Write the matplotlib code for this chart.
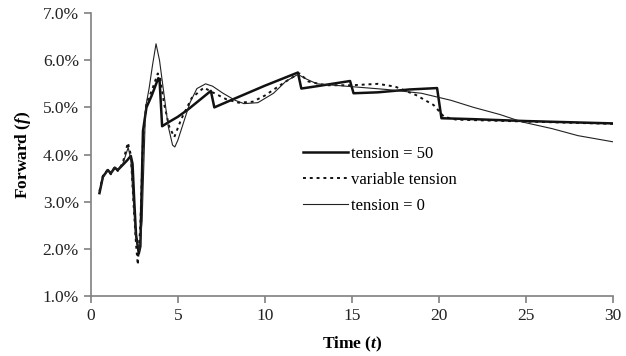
import matplotlib
matplotlib.use("Agg")
import matplotlib.pyplot as plt
from matplotlib.ticker import FuncFormatter

plt.rcParams["font.family"] = "Liberation Serif"
plt.rcParams["mathtext.fontset"] = "custom"
plt.rcParams["mathtext.it"] = "Liberation Serif:italic:bold"
plt.rcParams["mathtext.rm"] = "Liberation Serif:bold"

# tension = 50 (thick)
t_50 = [0.5, 0.7, 0.98, 1.15, 1.38, 1.55, 1.84, 2.1, 2.3, 2.4, 2.5, 2.6, 2.76, 2.85,
        3.0, 3.2, 3.5, 3.88, 3.95, 4.1, 4.4, 5.0, 5.57, 6.9, 7.1, 8.1, 10.0, 11.9,
        12.1, 13.0, 14.9, 15.1, 16.5, 18.3, 19.9, 20.15, 22.0, 25.0, 30.0]
f_50 = [3.18, 3.53, 3.67, 3.6, 3.72, 3.67, 3.78, 3.88, 3.97, 3.8, 3.0, 2.3, 1.9, 2.05,
        4.5, 5.0, 5.25, 5.62, 5.6, 4.6, 4.67, 4.8, 4.95, 5.35, 5.0, 5.16, 5.46, 5.74,
        5.4, 5.45, 5.56, 5.3, 5.32, 5.38, 5.41, 4.77, 4.75, 4.71, 4.66]

# variable tension (dotted)
t_var = [0.5, 0.7, 0.98, 1.15, 1.38, 1.55, 1.84, 2.13, 2.3, 2.45, 2.6, 2.7, 2.85, 3.0,
         3.2, 3.5, 3.85, 4.0, 4.2, 4.5, 4.8, 5.2, 5.8, 6.5, 7.0, 7.8, 8.5, 9.3, 10.0,
         10.8, 11.5, 12.0, 12.5, 13.5, 15.0, 16.5, 17.5, 18.7, 19.7, 20.3, 21.0, 25.0, 30.0]
f_var = [3.22, 3.55, 3.68, 3.58, 3.74, 3.65, 3.82, 4.25, 4.0, 3.0, 2.1, 1.66, 2.5, 4.3,
         5.1, 5.35, 5.72, 5.6, 5.1, 4.6, 4.37, 4.75, 5.2, 5.42, 5.32, 5.17, 5.1, 5.12, 5.25,
         5.45, 5.62, 5.72, 5.55, 5.47, 5.47, 5.5, 5.44, 5.26, 5.05, 4.8, 4.74, 4.7, 4.65]

# tension = 0 (thin)
t_0 = [0.5, 0.7, 0.98, 1.15, 1.38, 1.55, 1.84, 2.15, 2.3, 2.45, 2.6, 2.8, 2.95, 3.15,
       3.35, 3.55, 3.75, 3.95, 4.2, 4.45, 4.7, 4.83, 5.0, 5.35, 5.7, 6.1, 6.6, 7.0, 7.6,
       8.3, 8.8, 9.6, 10.5, 11.2, 11.9, 12.4, 13.0, 15.0, 17.0, 19.0, 20.7, 22.0, 23.5,
       24.8, 26.5, 28.0, 30.0]
f_0 = [3.2, 3.5, 3.68, 3.6, 3.73, 3.68, 3.8, 4.15, 3.9, 3.0, 2.2, 1.95, 2.6, 5.0,
       5.4, 5.9, 6.35, 6.0, 5.3, 4.6, 4.2, 4.16, 4.3, 4.7, 5.1, 5.4, 5.5, 5.45, 5.3,
       5.15, 5.08, 5.1, 5.3, 5.55, 5.7, 5.6, 5.5, 5.44, 5.38, 5.3, 5.15, 5.0, 4.85,
       4.69, 4.55, 4.4, 4.27]

x_ticks = [0, 5, 10, 15, 20, 25, 30]
y_ticks = [1, 2, 3, 4, 5, 6, 7]

fig = plt.figure(figsize=(6.26, 3.56), dpi=100)
ax = fig.add_axes([0.145, 0.169, 0.834, 0.794])

ax.plot(t_50, f_50, color="#111111", lw=1.8, label="tension = 50")
ax.plot(t_var, f_var, color="#111111", lw=1.4, ls=(0, (1.5, 2.0)), label="variable tension")
ax.plot(t_0, f_0, color="#222222", lw=0.8, label="tension = 0")

ax.set_xlim(0, 30)
ax.set_ylim(1, 7)
ax.set_xticks(x_ticks)
ax.set_yticks(y_ticks)
ax.yaxis.set_major_formatter(FuncFormatter(lambda v, p: f"{v:.1f}%"))

for side in ["top", "right"]:
    ax.spines[side].set_visible(False)
for side in ["left", "bottom"]:
    ax.spines[side].set_color("#808080")
    ax.spines[side].set_linewidth(1.2)
ax.tick_params(colors="#808080", labelcolor="#222222", labelsize=12.5, length=5, width=1.2)

ax.set_xlabel("Time ($t$)", fontsize=12.5, fontweight="bold", labelpad=8)
ax.set_ylabel("Forward ($f$)", fontsize=12.5, fontweight="bold", labelpad=7)

ax.legend(loc="upper left", bbox_to_anchor=(0.39, 0.56), frameon=False, fontsize=12,
          handlelength=2.7, handletextpad=0.2, labelspacing=0.6, borderpad=0)

fig.savefig("out.png", dpi=100)
